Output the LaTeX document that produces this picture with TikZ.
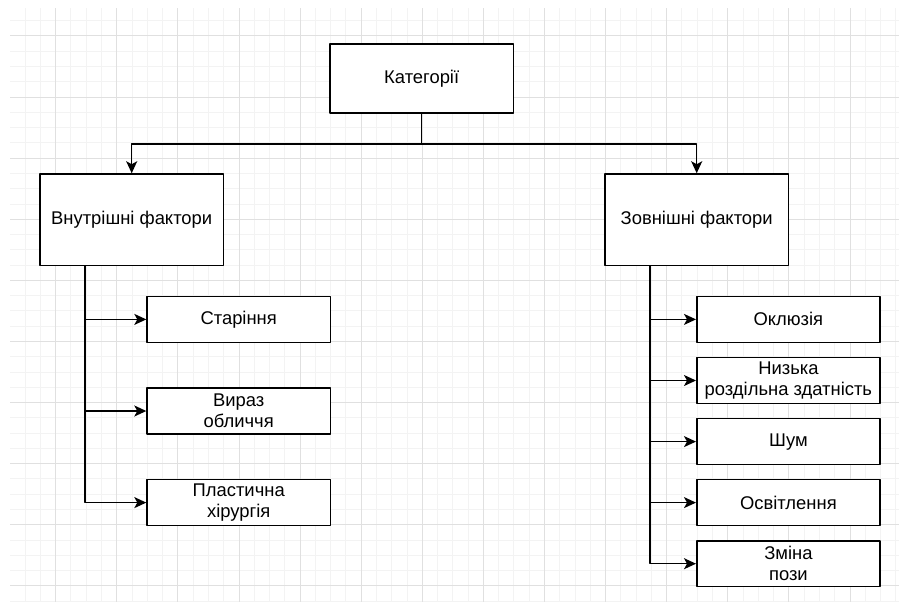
\documentclass[tikz,border=0pt]{standalone}
\usepackage{fontspec}
\setmainfont{Liberation Sans}
\usetikzlibrary{arrows.meta}
\definecolor{gridminor}{RGB}{243,243,243}
\definecolor{gridmajor}{RGB}{224,224,224}
\begin{document}
\begin{tikzpicture}[x=1pt,y=-1pt,line cap=round,line join=round,
  font=\fontsize{18.4}{21.2}\selectfont,
  box/.style={draw=black,line width=1.5pt,fill=white,align=center,inner sep=0pt},
  catbox/.style={box,minimum width=183.3pt,minimum height=68.7pt},
  groupbox/.style={box,minimum width=183.3pt,minimum height=91.6pt},
  itembox/.style={box,minimum width=183.3pt,minimum height=45.8pt},
  link/.style={line width=1.5pt,-{Stealth[length=12pt,width=11pt,inset=3pt]}}]
  \useasboundingbox (0,0) rectangle (899,602);
  \fill[white] (0,0) rectangle (899,602);
  \begin{scope}
    \clip (10,9) rectangle (899,602);
    \begin{scope}[shift={(55.7,36)}]
      \draw[gridminor,line width=1pt,step=15.275pt] (-61.1,-61.1) grid (855.4,580.5);
      \draw[gridmajor,line width=1pt,step=61.1pt] (-61.1,-61.1) grid (855.4,580.5);
    \end{scope}
  \end{scope}
  \node[catbox] (cat) at (421.7,78.5) {Категорії};
  \node[groupbox] (inner) at (131.7,219.8) {Внутрішні фактори};
  \node[groupbox] (outer) at (696.7,219.8) {Зовнішні фактори};
  \node[itembox] (age) at (238.7,319.4) {Старіння};
  \node[itembox] (face) at (238.7,411.0) {Вираз\\обличчя};
  \node[itembox] (surg) at (238.7,502.6) {Пластична\\хірургія};
  \node[itembox] (occl) at (788.4,319.4) {Оклюзія};
  \node[itembox] (res) at (788.4,380.5) {Низька\\роздільна здатність};
  \node[itembox] (noise) at (788.4,441.6) {Шум};
  \node[itembox] (light) at (788.4,502.6) {Освітлення};
  \node[itembox] (pose) at (788.4,563.7) {Зміна\\пози};
  \coordinate (split) at (421.7,144);
  \draw[line width=1.5pt] (cat.south) -- (split);
  \draw[link] (split) -| (inner.north);
  \draw[link] (split) -| (outer.north);
  \foreach \n in {age,face,surg}
    \draw[link] (inner.south west) ++(45.8,0) |- (\n.west);
  \foreach \n in {occl,res,noise,light,pose}
    \draw[link] (outer.south west) ++(45.8,0) |- (\n.west);
\end{tikzpicture}
\end{document}
